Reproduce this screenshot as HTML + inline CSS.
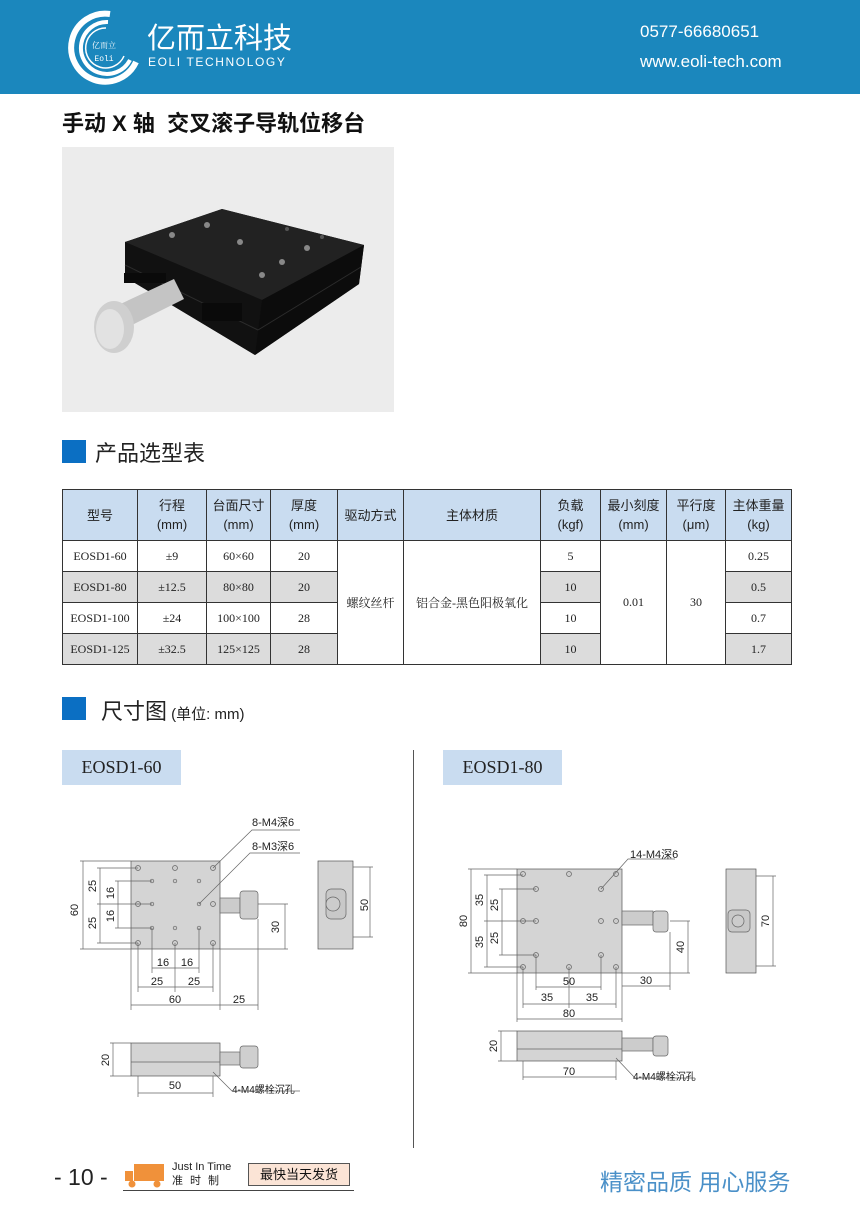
<!DOCTYPE html>
<html><head><meta charset="utf-8"><style>
*{margin:0;padding:0;box-sizing:border-box}
body{width:860px;height:1216px;position:relative;background:#fff;font-family:"Liberation Sans","Noto Sans CJK SC",sans-serif;overflow:hidden}
.abs{position:absolute}
table{border-collapse:collapse;position:absolute;left:62px;top:489px;width:729px;table-layout:fixed}
td{border:1px solid #333;text-align:center;font-size:12px;color:#222;height:31px;font-family:"Liberation Serif","Noto Serif CJK SC",serif}
tr.h td{background:#c9dcf0;height:51px;font-family:"Liberation Sans","Noto Sans CJK SC",sans-serif;font-size:13px;line-height:19px}
td.g{background:#dcdcdc}
.lbl{position:absolute;background:#c9dcf0;font-family:"Liberation Serif",serif;font-size:18px;color:#222;text-align:center;line-height:35px;width:119px;height:35px}
</style></head><body>
<div class="abs" style="left:0;top:0;width:860px;height:94px;background:#1b87bd"></div>
<svg class="abs" style="left:64px;top:10px" width="76" height="76" viewBox="0 0 76 76">
<path d="M46 4 A34 34 0 1 0 72 52" fill="none" stroke="#fff" stroke-width="6"/>
<path d="M44 12 A26 26 0 1 0 66 50" fill="none" stroke="#fff" stroke-width="4"/>
<path d="M42 18 A20 20 0 1 0 60 46" fill="none" stroke="#fff" stroke-width="1.5"/>
<text x="40" y="38" font-size="8" fill="#fff" text-anchor="middle" font-family="Noto Serif CJK SC,serif">亿而立</text>
<text x="40" y="51" font-size="8" fill="#fff" text-anchor="middle" font-family="Liberation Mono,monospace">Eoli</text>
</svg>
<div class="abs" style="left:147px;top:22px;color:#fff;font-size:29px;line-height:34px">亿而立科技</div>
<div class="abs" style="left:148px;top:55px;color:#fff;font-size:12px;letter-spacing:1.6px">EOLI TECHNOLOGY</div>
<div class="abs" style="left:640px;top:22px;color:#fff;font-size:17px">0577-66680651</div>
<div class="abs" style="left:640px;top:52px;color:#fff;font-size:17px">www.eoli-tech.com</div>
<div class="abs" style="left:62px;top:106px;font-size:22px;font-weight:bold;color:#111">手动 X 轴&nbsp; 交叉滚子导轨位移台</div>

<svg class="abs" style="left:62px;top:147px" width="332" height="265" viewBox="0 0 332 265">
<rect width="332" height="265" fill="#ececec"/>
<polygon points="63,95 160,62 302,98 297,137 193,208 63,130" fill="#161616"/>
<polygon points="63,95 160,62 302,98 200,153" fill="#222"/>
<polygon points="63,95 200,153 193,208 63,130" fill="#111"/>
<polygon points="200,153 302,98 297,137 193,208" fill="#0c0c0c"/>
<line x1="63" y1="118" x2="196" y2="183" stroke="#2c2c2c"/>
<line x1="196" y1="183" x2="299" y2="120" stroke="#2c2c2c"/>
<rect x="62" y="126" width="42" height="10" fill="#0a0a0a"/>
<rect x="140" y="156" width="40" height="18" fill="#0a0a0a"/>
<polygon points="52,160 112,132 122,152 62,182" fill="#c4c4c4"/>
<ellipse cx="52" cy="180" rx="20" ry="26" fill="#cfcfcf"/>
<ellipse cx="48" cy="182" rx="14" ry="20" fill="#e2e2e2"/>
<circle cx="145" cy="78" r="3" fill="#888"/><circle cx="220" cy="115" r="3" fill="#888"/><circle cx="178" cy="95" r="3" fill="#888"/><circle cx="110" cy="88" r="3" fill="#888"/><circle cx="245" cy="101" r="3" fill="#888"/><circle cx="200" cy="128" r="3" fill="#888"/><circle cx="225" cy="82" r="2" fill="#555"/><circle cx="260" cy="90" r="2" fill="#555"/>
</svg>

<div class="abs" style="left:62px;top:440px;width:24px;height:23px;background:#0b6fc3"></div>
<div class="abs" style="left:95px;top:436px;font-size:22px;color:#222">产品选型表</div>

<table>
<colgroup><col style="width:75px"><col style="width:69px"><col style="width:64px"><col style="width:67px"><col style="width:66px"><col style="width:137px"><col style="width:60px"><col style="width:66px"><col style="width:59px"><col style="width:66px"></colgroup>
<tr class="h"><td>型号</td><td>行程<br>(mm)</td><td>台面尺寸<br>(mm)</td><td>厚度<br>(mm)</td><td>驱动方式</td><td>主体材质</td><td>负载<br>(kgf)</td><td>最小刻度<br>(mm)</td><td>平行度<br>(μm)</td><td>主体重量<br>(kg)</td></tr>
<tr><td>EOSD1-60</td><td>±9</td><td>60×60</td><td>20</td><td rowspan="4">螺纹丝杆</td><td rowspan="4">铝合金-黑色阳极氧化</td><td>5</td><td rowspan="4">0.01</td><td rowspan="4">30</td><td>0.25</td></tr>
<tr><td class="g">EOSD1-80</td><td class="g">±12.5</td><td class="g">80×80</td><td class="g">20</td><td class="g">10</td><td class="g">0.5</td></tr>
<tr><td>EOSD1-100</td><td>±24</td><td>100×100</td><td>28</td><td>10</td><td>0.7</td></tr>
<tr><td class="g">EOSD1-125</td><td class="g">±32.5</td><td class="g">125×125</td><td class="g">28</td><td class="g">10</td><td class="g">1.7</td></tr>
</table>

<div class="abs" style="left:62px;top:697px;width:24px;height:23px;background:#0b6fc3"></div>
<div class="abs" style="left:101px;top:694px;font-size:22px;color:#222">尺寸图<span style="font-size:15px"> (单位: mm)</span></div>
<div class="lbl" style="left:62px;top:750px">EOSD1-60</div>
<div class="lbl" style="left:443px;top:750px">EOSD1-80</div>
<div class="abs" style="left:413px;top:750px;width:1px;height:398px;background:#555"></div>

<svg class="abs" style="left:0;top:0" width="860" height="1216" font-family="Liberation Sans,Noto Sans CJK SC,sans-serif" font-size="11" fill="#222">
<g stroke="#666" stroke-width="0.7" fill="none">
<rect x="131" y="861" width="89" height="88" fill="#d4d4d4" stroke="#555"/>
<rect x="220" y="898" width="20" height="15" fill="#ccc"/>
<rect x="240" y="891" width="18" height="28" rx="3" fill="#cfcfcf"/>
<g fill="#ccc">
<circle cx="138" cy="868" r="2.5"/><circle cx="175" cy="868" r="2.5"/><circle cx="213" cy="868" r="2.5"/><circle cx="138" cy="904" r="2.5"/><circle cx="213" cy="904" r="2.5"/><circle cx="138" cy="943" r="2.5"/><circle cx="175" cy="943" r="2.5"/><circle cx="213" cy="943" r="2.5"/>
<circle cx="152" cy="881" r="1.8"/><circle cx="175" cy="881" r="1.8"/><circle cx="199" cy="881" r="1.8"/><circle cx="152" cy="904" r="1.8"/><circle cx="199" cy="904" r="1.8"/><circle cx="152" cy="928" r="1.8"/><circle cx="175" cy="928" r="1.8"/><circle cx="199" cy="928" r="1.8"/>
</g>
<path d="M80 861H131M80 949H131M97 868H138M97 943H138M115 881H152M115 928H152M97 904H152"/>
<path d="M83 861V949M100 868V943M118 881V928"/>
<path d="M131 949V1010M220 949V1010M258 919V1010M138 943V992M213 943V992M175 943V992M152 928V973M199 928V973"/>
<path d="M152 968H199M138 987H213M131 1005H258"/>
<path d="M258 904H288M220 949H288M285 904V949"/>
<path d="M213 868L252 830H300M199 904L250 853H300"/>
<rect x="318" y="861" width="35" height="88" fill="#d4d4d4" stroke="#555"/>
<rect x="326" y="889" width="20" height="30" rx="5" fill="#c8c8c8"/>
<circle cx="333" cy="904" r="7" fill="#ccc"/>
<path d="M353 867H373M353 937H373M370 867V937"/>
<rect x="131" y="1043" width="89" height="33" fill="#d4d4d4" stroke="#555"/>
<line x1="131" y1="1062" x2="220" y2="1062"/>
<rect x="220" y="1052" width="20" height="13" fill="#ccc"/>
<rect x="240" y="1046" width="18" height="22" rx="3" fill="#cfcfcf"/>
<path d="M110 1043H131M110 1076H131M113 1043V1076M138 1076V1097M213 1076V1097M138 1093H213M213 1072L232 1091H300"/>
<rect x="517" y="869" width="105" height="104" fill="#d4d4d4" stroke="#555"/>
<rect x="622" y="911" width="31" height="14" fill="#ccc"/>
<rect x="653" y="911" width="15" height="21" rx="3" fill="#cfcfcf"/>
<g fill="#ccc">
<circle cx="523" cy="874" r="2.5"/><circle cx="569" cy="874" r="2.5"/><circle cx="616" cy="874" r="2.5"/><circle cx="523" cy="921" r="2.5"/><circle cx="616" cy="921" r="2.5"/><circle cx="523" cy="967" r="2.5"/><circle cx="569" cy="967" r="2.5"/><circle cx="616" cy="967" r="2.5"/>
<circle cx="536" cy="889" r="2.5"/><circle cx="601" cy="889" r="2.5"/><circle cx="536" cy="921" r="2.5"/><circle cx="601" cy="921" r="2.5"/><circle cx="536" cy="955" r="2.5"/><circle cx="601" cy="955" r="2.5"/>
</g>
<path d="M468 869H517M468 973H517M484 875H523M484 967H523M499 889H536M499 955H536M484 921H536"/>
<path d="M471 869V973M487 875V967M502 889V955"/>
<path d="M517 973V1022M622 973V1022M523 967V1008M616 967V1008M569 967V1008M536 955V990M601 955V990M670 932V990"/>
<path d="M536 987H601M523 1004H616M517 1019H622M622 986H670"/>
<path d="M670 921H690M622 973H690M688 921V973"/>
<path d="M601 889L628 859H675"/>
<rect x="726" y="869" width="30" height="104" fill="#d4d4d4" stroke="#555"/>
<rect x="728" y="910" width="22" height="22" rx="4" fill="#c8c8c8"/>
<circle cx="738" cy="921" r="6" fill="#ccc"/>
<path d="M756 876H776M756 966H776M773 876V966"/>
<rect x="517" y="1031" width="105" height="30" fill="#d4d4d4" stroke="#555"/>
<line x1="517" y1="1049" x2="622" y2="1049"/>
<rect x="622" y="1038" width="31" height="13" fill="#ccc"/>
<rect x="653" y="1036" width="15" height="20" rx="3" fill="#cfcfcf"/>
<path d="M498 1031H517M498 1061H517M501 1031V1061M523 1061V1080M616 1061V1080M523 1077H616M616 1058L635 1078H695"/>
</g>
<g>
<text x="252" y="826">8-M4深6</text><text x="252" y="850">8-M3深6</text>
<text x="78" y="910" transform="rotate(-90 78 910)" text-anchor="middle">60</text>
<text x="96" y="886" transform="rotate(-90 96 886)" text-anchor="middle">25</text>
<text x="96" y="923" transform="rotate(-90 96 923)" text-anchor="middle">25</text>
<text x="114" y="893" transform="rotate(-90 114 893)" text-anchor="middle">16</text>
<text x="114" y="916" transform="rotate(-90 114 916)" text-anchor="middle">16</text>
<text x="163" y="966" text-anchor="middle">16</text><text x="187" y="966" text-anchor="middle">16</text>
<text x="157" y="985" text-anchor="middle">25</text><text x="194" y="985" text-anchor="middle">25</text>
<text x="175" y="1003" text-anchor="middle">60</text><text x="239" y="1003" text-anchor="middle">25</text>
<text x="279" y="927" transform="rotate(-90 279 927)" text-anchor="middle">30</text>
<text x="368" y="905" transform="rotate(-90 368 905)" text-anchor="middle">50</text>
<text x="109" y="1060" transform="rotate(-90 109 1060)" text-anchor="middle">20</text>
<text x="175" y="1089" text-anchor="middle">50</text>
<text x="232" y="1093" font-size="10">4-M4螺栓沉孔</text>
<text x="630" y="858">14-M4深6</text>
<text x="467" y="921" transform="rotate(-90 467 921)" text-anchor="middle">80</text>
<text x="483" y="900" transform="rotate(-90 483 900)" text-anchor="middle">35</text>
<text x="483" y="942" transform="rotate(-90 483 942)" text-anchor="middle">35</text>
<text x="498" y="905" transform="rotate(-90 498 905)" text-anchor="middle">25</text>
<text x="498" y="938" transform="rotate(-90 498 938)" text-anchor="middle">25</text>
<text x="569" y="985" text-anchor="middle">50</text>
<text x="547" y="1001" text-anchor="middle">35</text><text x="592" y="1001" text-anchor="middle">35</text>
<text x="569" y="1017" text-anchor="middle">80</text>
<text x="646" y="984" text-anchor="middle">30</text>
<text x="684" y="947" transform="rotate(-90 684 947)" text-anchor="middle">40</text>
<text x="769" y="921" transform="rotate(-90 769 921)" text-anchor="middle">70</text>
<text x="497" y="1046" transform="rotate(-90 497 1046)" text-anchor="middle">20</text>
<text x="569" y="1075" text-anchor="middle">70</text>
<text x="633" y="1080" font-size="10">4-M4螺栓沉孔</text>
</g>
</svg>

<div class="abs" style="left:54px;top:1164px;font-size:23px;color:#222">- 10 -</div>
<svg class="abs" style="left:124px;top:1163px" width="42" height="26"><rect x="10" y="1" width="30" height="17" fill="#f0913a"/><path d="M1 8H9V18H1Z" fill="#f0913a"/><circle cx="8" cy="21" r="3.5" fill="#f0913a"/><circle cx="33" cy="21" r="3.5" fill="#f0913a"/></svg>
<div class="abs" style="left:172px;top:1160px;font-size:11px;color:#222;line-height:14px">Just In Time<br><span style="letter-spacing:7px">准时制</span></div>
<div class="abs" style="left:248px;top:1163px;width:102px;height:23px;border:1px solid #555;background:#fbe4d6;font-size:13px;line-height:21px;text-align:center;color:#111">最快当天发货</div>
<div class="abs" style="left:123px;top:1190px;width:231px;height:1px;background:#444"></div>
<div class="abs" style="left:600px;top:1163px;font-size:23px;color:#4a90c8">精密品质 用心服务</div>
</body></html>
